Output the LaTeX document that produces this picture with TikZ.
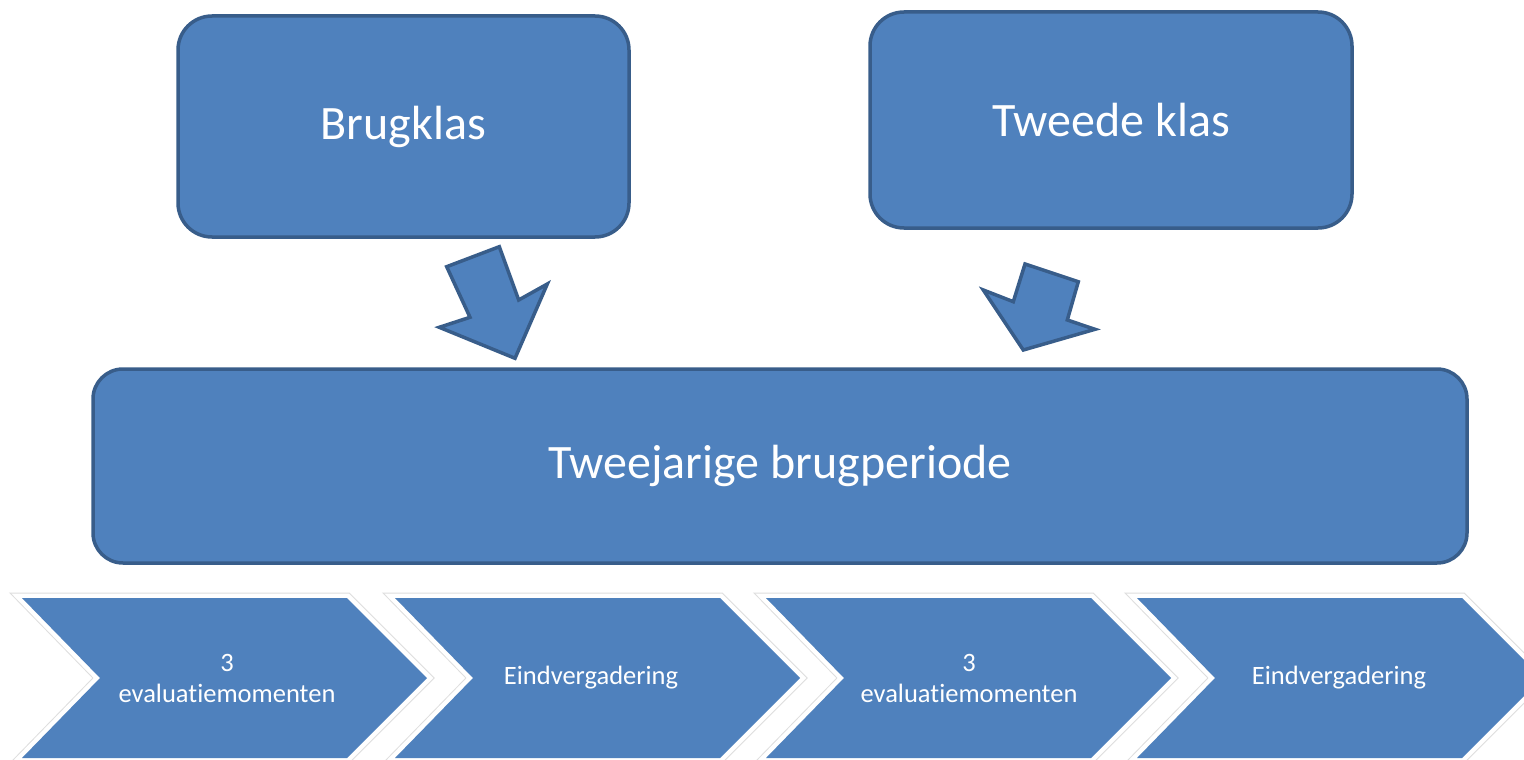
\documentclass[tikz,border=0pt]{standalone}
\usepackage{fontspec}
\setmainfont{Carlito}[Ligatures={NoCommon,NoRequired,NoContextual}]
\definecolor{fillblue}{HTML}{4F81BD}
\definecolor{edgeblue}{HTML}{385D8A}
\definecolor{glowgray}{HTML}{DEDEDE}
\tikzset{
  bigbox/.style={draw=edgeblue, fill=fillblue, line width=3.5pt, rounded corners=34pt,
    text=white, font=\fontsize{48}{58}\selectfont, inner sep=0pt},
  blockarrow/.style={draw=edgeblue, fill=fillblue, line width=3.5pt, line join=miter},
  chevglow/.style={draw=glowgray, line width=11pt, line join=miter},
  chevwhite/.style={draw=white, line width=9pt, line join=miter},
  chevfill/.style={fill=fillblue},
  chevtext/.style={text=white, font=\fontsize{26.5}{31}\selectfont, align=center, inner sep=0pt}
}
\newcommand{\chevpath}[1]{(#1,598) -- (#1+325,598) -- (#1+405,678) -- (#1+325,758) -- (#1,758) -- (#1+78,678) -- cycle}
\begin{document}
\begin{tikzpicture}[x=1pt,y=-1pt]
\useasboundingbox (0,0) rectangle (1524,760);
\clip (0,0) rectangle (1524,760);
% top boxes
\node[bigbox, minimum width=451pt, minimum height=221pt] (brug) at (403.5,126.5) {Brugklas};
\node[bigbox, minimum width=482pt, minimum height=216pt] (tweede) at (1111,120) {Tweede klas};
\node[bigbox, minimum width=1374pt, minimum height=194pt, rounded corners=30pt] (periode) at (780,466) {Tweejarige brugperiode};
% block arrows
\draw[blockarrow] (446.7,266.7) -- (499.3,246.7) -- (518.7,300) -- (547.3,284) -- (515,358.3) -- (439.3,327.3) -- (470,317.3) -- cycle;
\draw[blockarrow] (1025,264) -- (1078.3,281.7) -- (1067.3,320) -- (1095,329.3) -- (1023.3,350) -- (983.3,290) -- (1013.3,301.7) -- cycle;
% chevrons
\foreach \x in {22,395,766,1137}{
  \path[chevglow] \chevpath{\x};
}
\foreach \x in {22,395,766,1137}{
  \path[chevwhite] \chevpath{\x};
}
\foreach \x in {22,395,766,1137}{
  \path[chevfill] \chevpath{\x};
}
\node[chevtext] (c1) at (227,678) {3\\evaluatiemomenten};
\node[chevtext] (c2) at (591,678) {Eindvergadering};
\node[chevtext] (c3) at (969,678) {3\\evaluatiemomenten};
\node[chevtext] (c4) at (1339,678) {Eindvergadering};
\end{tikzpicture}
\end{document}
